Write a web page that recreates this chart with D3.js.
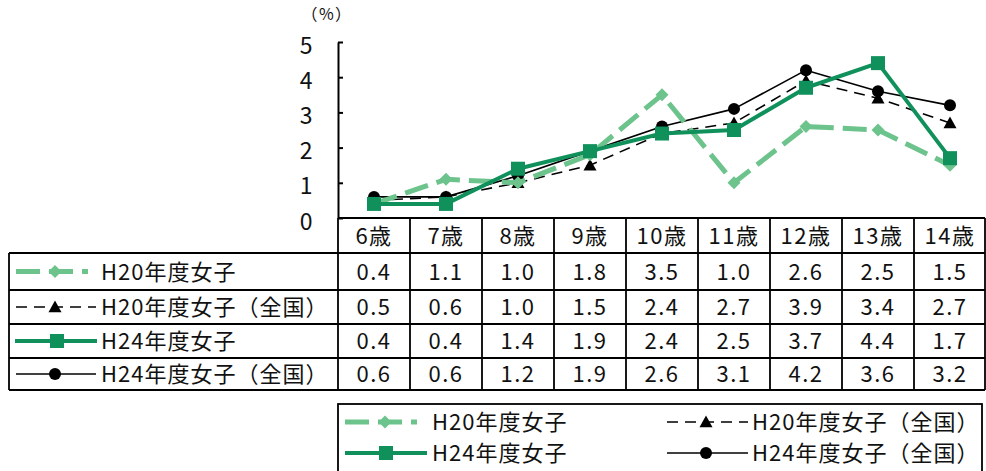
<!DOCTYPE html>
<html>
<head>
<meta charset="utf-8">
<script src="https://cdn.jsdelivr.net/npm/d3@7"></script>
<style>
  html, body { margin: 0; padding: 0; background: #fff; }
  svg { display: block; }
  text { font-family: "Noto Sans CJK JP", "Noto Sans", sans-serif; fill: #111; }
</style>
</head>
<body>
<svg id="chart" width="986" height="471"></svg>
<script>
// 年齢区分
const ages = ["6歳", "7歳", "8歳", "9歳", "10歳", "11歳", "12歳", "13歳", "14歳"];
// 系列名
const seriesNames = ["H20年度女子", "H20年度女子（全国）", "H24年度女子", "H24年度女子（全国）"];
// 各系列の値（%）
const h20Girls      = [0.4, 1.1, 1.0, 1.8, 3.5, 1.0, 2.6, 2.5, 1.5];
const h20GirlsNat   = [0.5, 0.6, 1.0, 1.5, 2.4, 2.7, 3.9, 3.4, 2.7];
const h24Girls      = [0.4, 0.4, 1.4, 1.9, 2.4, 2.5, 3.7, 4.4, 1.7];
const h24GirlsNat   = [0.6, 0.6, 1.2, 1.9, 2.6, 3.1, 4.2, 3.6, 3.2];
// 縦軸目盛
const yTicks = [0, 1, 2, 3, 4, 5];
const yUnit = "（%）";

const LIGHT = "#6cc38c";
const DARK = "#10915c";
const FONT = "22px";

const styles = [
  { name: seriesNames[0], values: h20Girls,    color: LIGHT, width: 5,   dash: "24,9", marker: "diamond", size: 13 },
  { name: seriesNames[1], values: h20GirlsNat, color: "#000", width: 1.6, dash: "11,7", marker: "triangle", size: 13 },
  { name: seriesNames[2], values: h24Girls,    color: DARK,  width: 4,   dash: null,   marker: "square", size: 14 },
  { name: seriesNames[3], values: h24GirlsNat, color: "#000", width: 1.6, dash: null,   marker: "circle", size: 13 }
];

const svg = d3.select("#chart");

const plotLeft = 338, plotRight = 986;
const x = d3.scaleBand().domain(ages).range([plotLeft, plotRight]);
const y = d3.scaleLinear().domain([0, 5]).range([218, 42]);

// 縦軸
const yAxis = d3.axisLeft(y).tickValues(yTicks).tickSizeInner(-5).tickSizeOuter(0).tickPadding(24).tickFormat(d3.format("d"));
const gy = svg.append("g").attr("transform", `translate(${plotLeft},0)`).call(yAxis);
gy.select(".domain").attr("stroke", "#000").attr("stroke-width", 2);
gy.selectAll(".tick line").attr("stroke", "#000").attr("stroke-width", 2);
gy.selectAll(".tick text").style("font-size", "23px").attr("fill", "#111")
  .attr("text-anchor", "middle").attr("dx", "-8").attr("dy", "0.48em");

svg.append("text").attr("x", 327).attr("y", 20).attr("text-anchor", "middle")
  .style("font-size", "16px").style("letter-spacing", "1.5px").text(yUnit);

// マーカー
function drawMarker(g, type, cx, cy, size, color) {
  const h = size / 2;
  if (type === "diamond") {
    g.append("path").attr("d", `M${cx},${cy - h}L${cx + h},${cy}L${cx},${cy + h}L${cx - h},${cy}Z`).attr("fill", color);
  } else if (type === "triangle") {
    g.append("path").attr("d", `M${cx},${cy - h}L${cx + h},${cy + h * 0.8}L${cx - h},${cy + h * 0.8}Z`).attr("fill", color);
  } else if (type === "square") {
    g.append("rect").attr("x", cx - h).attr("y", cy - h).attr("width", size).attr("height", size).attr("fill", color);
  } else {
    g.append("circle").attr("cx", cx).attr("cy", cy).attr("r", h - 0.5).attr("fill", color);
  }
}

// 折れ線
const line = d3.line().x((d, i) => x(ages[i]) + x.bandwidth() / 2).y(d => y(d));
const drawOrder = [1, 3, 0, 2];
drawOrder.forEach(k => {
  const s = styles[k];
  const g = svg.append("g");
  g.append("path").datum(s.values).attr("d", line).attr("fill", "none")
    .attr("stroke", s.color).attr("stroke-width", s.width)
    .attr("stroke-dasharray", s.dash).attr("stroke-linejoin", "round");
  s.values.forEach((v, i) => drawMarker(g, s.marker, x(ages[i]) + x.bandwidth() / 2, y(v), s.size, s.color));
});

// データ表
const rowTops = [218, 253, 290, 324, 358, 390];
const tableLeft = 9, tableRight = 985;
const tg = svg.append("g").attr("stroke", "#000").attr("stroke-width", 1.8);
tg.append("line").attr("x1", plotLeft).attr("x2", tableRight).attr("y1", rowTops[0]).attr("y2", rowTops[0]).attr("stroke-width", 2);
rowTops.slice(1).forEach(r => tg.append("line").attr("x1", tableLeft).attr("x2", tableRight).attr("y1", r).attr("y2", r));
tg.append("line").attr("x1", tableLeft).attr("x2", tableLeft).attr("y1", rowTops[1]).attr("y2", rowTops[5]);
ages.forEach(a => tg.append("line").attr("x1", x(a)).attr("x2", x(a)).attr("y1", rowTops[0]).attr("y2", rowTops[5]));
tg.append("line").attr("x1", tableRight).attr("x2", tableRight).attr("y1", rowTops[0]).attr("y2", rowTops[5]);

// 見出し行
ages.forEach(a => {
  svg.append("text").attr("x", x(a) + x.bandwidth() / 2).attr("y", (rowTops[0] + rowTops[1]) / 2)
    .attr("dy", "0.38em").attr("text-anchor", "middle").style("font-size", FONT)
    .style("letter-spacing", "1.5px").text(a);
});

// 凡例付きの行
function legendSample(g, s, x1, x2, mx, cy) {
  g.append("line").attr("x1", x1).attr("x2", x2).attr("y1", cy).attr("y2", cy)
    .attr("stroke", s.color).attr("stroke-width", s.width).attr("stroke-dasharray", s.dash);
  drawMarker(g, s.marker, mx, cy, s.size, s.color);
}
const sampleSpans = [[16, 88, 55], [16, 96, 55], [15, 97, 57], [16, 96, 55]];
styles.forEach((s, k) => {
  const cy = (rowTops[k + 1] + rowTops[k + 2]) / 2;
  const g = svg.append("g");
  legendSample(g, s, sampleSpans[k][0], sampleSpans[k][1], sampleSpans[k][2], cy);
  g.append("text").attr("x", 101).attr("y", cy).attr("dy", "0.38em").style("font-size", FONT)
    .style("letter-spacing", "1px").text(s.name);
  s.values.forEach((v, i) => {
    g.append("text").attr("x", x(ages[i]) + x.bandwidth() / 2).attr("y", cy).attr("dy", "0.38em")
      .attr("text-anchor", "middle").style("font-size", FONT).style("letter-spacing", "1.5px").text(v.toFixed(1));
  });
});

// 下部の凡例
svg.append("rect").attr("x", 338).attr("y", 404).attr("width", 644).attr("height", 80)
  .attr("fill", "none").attr("stroke", "#000").attr("stroke-width", 1.8);
const legendItems = [
  { k: 0, x1: 345, x2: 417, mx: 385, tx: 432, cy: 422 },
  { k: 1, x1: 667, x2: 748, mx: 706, tx: 752, cy: 422 },
  { k: 2, x1: 345, x2: 427, mx: 386, tx: 432, cy: 453 },
  { k: 3, x1: 667, x2: 748, mx: 706, tx: 752, cy: 453 }
];
legendItems.forEach(it => {
  const s = styles[it.k];
  const g = svg.append("g");
  legendSample(g, s, it.x1, it.x2, it.mx, it.cy);
  g.append("text").attr("x", it.tx).attr("y", it.cy).attr("dy", "0.38em").style("font-size", FONT)
    .style("letter-spacing", "1px").text(s.name);
});
</script>
</body>
</html>
